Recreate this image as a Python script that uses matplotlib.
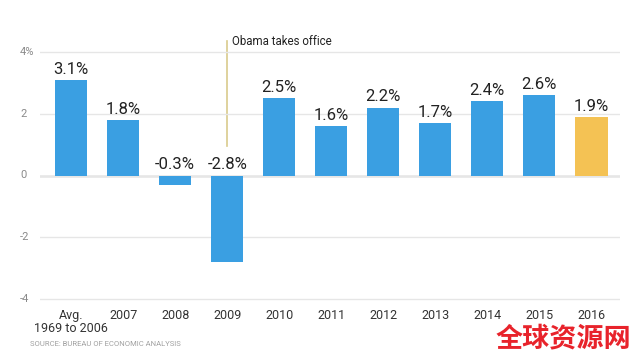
import matplotlib.pyplot as plt
from matplotlib import transforms

plt.rcParams['font.family'] = ['Roboto', 'DejaVu Sans']

labels = ['Avg.\n1969 to 2006', '2007', '2008', '2009', '2010', '2011',
          '2012', '2013', '2014', '2015', '2016']
growth = [3.1, 1.8, -0.3, -2.8, 2.5, 1.6, 2.2, 1.7, 2.4, 2.6, 1.9]
yticks = [4, 2, 0, -2, -4]
ytick_labels = ['4%', '2', '0', '-2', '-4']

blue = '#3a9fe2'
yellow = '#f4c254'
colors = [blue] * (len(growth) - 1) + [yellow]

fig = plt.figure(figsize=(6.43, 3.58), dpi=100)
ax = fig.add_axes([40 / 643, 55 / 358, 580 / 643, 255 / 358])

x = list(range(len(growth)))
ax.bar(x, growth, width=0.62, color=colors, zorder=2)
ax.set_xlim(-0.6, len(growth) - 0.45)
ax.set_ylim(-4.13, 4.13)

for i, v in enumerate(growth):
    ypos = v if v > 0 else 0
    ax.text(i, ypos + 0.1, f'{v:.1f}%', ha='center', va='bottom',
            fontsize=12, color='#222222', zorder=3)

ax.set_yticks(yticks)
ax.set_yticklabels([])
ax.grid(axis='y', color='#e6e6e6', linewidth=1, zorder=0)
ax.axhline(0, color='#a0a0a0', linewidth=1, zorder=1)
ax.tick_params(axis='y', length=0)
ax.tick_params(axis='x', length=0, pad=4, labelsize=9, labelcolor='#333333')
ax.set_xticks(x)
ax.set_xticklabels(labels, linespacing=1.05)
for s in ax.spines.values():
    s.set_visible(False)

# y labels left-aligned near the figure edge
tr = transforms.blended_transform_factory(fig.transFigure, ax.transData)
for t, lab in zip(yticks, ytick_labels):
    ax.text(20 / 643, t, lab, transform=tr, ha='left', va='center',
            fontsize=8, color='#8a8a8a')

# Obama annotation
ax.plot([3, 3], [0.95, 4.35], color='#d9cb8c', linewidth=1.2, clip_on=False, zorder=1)
ax.text(3.1, 4.35, 'Obama takes office', fontsize=8.3, color='#222222',
        va='center', ha='left')

fig.text(30 / 643, 1 - 344 / 358, 'SOURCE: BUREAU OF ECONOMIC ANALYSIS',
         fontsize=5.5, color='#a0a0a0', va='center')

fig.text(563 / 643, 1 - 338 / 358, '全球资源网', fontsize=19.5, color='#e8232b',
         fontweight='bold', ha='center', va='center',
         family=['Noto Sans CJK SC', 'DejaVu Sans'])

fig.savefig('out.png', dpi=100, facecolor='white')
